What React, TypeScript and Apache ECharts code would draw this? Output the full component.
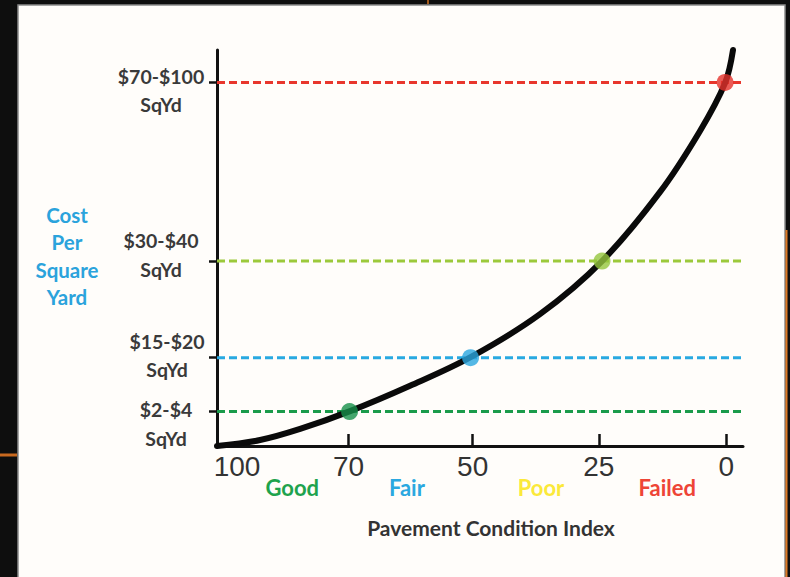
import React, { useEffect, useRef } from 'react';
import * as echarts from 'echarts';

// ---- data (abstract axis units: x = position along PCI scale, y = relative cost) ----
const pciTickPos = [0, 25, 48.6, 72.6, 96.8];
const pciTickLabels = ['100', '70', '50', '25', '0'];
const ratingPos = [14.3, 36.1, 61.6, 85.6];
const ratingNames = ['Good', 'Fair', 'Poor', 'Failed'];
const costLevels = [8.7, 22.3, 46.7, 91.8];
const costRanges = ['$2-$4', '$15-$20', '$30-$40', '$70-$100'];
const costUnit = 'SqYd';
const yTitleLines = ['Cost', 'Per', 'Square', 'Yard'];
const xTitle = 'Pavement Condition Index';
const curveX = [0, 8.2, 15.8, 25.3, 36.7, 48.3, 61.4, 73.2, 84.2, 91.8, 96.6, 98.1];
const curveY = [0, 1.5, 4.3, 8.8, 15.2, 22.5, 33.3, 46.7, 64.1, 79.5, 91.7, 100];
const pointX = [25.2, 48.2, 73.2, 96.6];

const levelColors = ['#1a9b4b', '#29a9e1', '#9cc93b', '#e8362c'];
const dotColors = ['#16904a', '#2aa6e0', '#95c63d', '#e5312b'];
const ratingColors = ['#1ea34d', '#2ba8e0', '#fbe93a', '#ee4436'];

const X_MIN = 0;
const X_MAX = 100;
const Y_MIN = 0;
const Y_MAX = 100;

// layout
const GRID = { left: 217, top: 50, width: 526, height: 396 };
const labelShiftDownPx = [12.5, -2, -6, 8]; // hand-placed label offsets in the original
const labelPadRight = [2, 0, 12, 12];

const BOLD = 'Lato, "Open Sans", sans-serif';
const NARROW = '"Liberation Sans Narrow", "Liberation Sans", Arial, sans-serif';

function yRich() {
  const base = { fontFamily: BOLD, fontWeight: 'bold', fontSize: 19.5, color: '#3a3a3a', lineHeight: 28.5 };
  const rich: Record<string, any> = {};
  labelPadRight.forEach((p, i) => {
    rich['a' + i] = { ...base, padding: [0, p, 0, 0] };
  });
  return rich;
}

function xRich() {
  const base = { fontFamily: NARROW, fontSize: 28, color: '#333333' };
  return {
    first: { ...base, padding: [0, 0, 0, 40] },
    n: { ...base },
  };
}

function ratingRich() {
  const rich: Record<string, any> = {};
  ratingColors.forEach((c, i) => {
    rich['r' + i] = { fontFamily: BOLD, fontWeight: 'bold', fontSize: 22, color: c };
  });
  return rich;
}

export default function App() {
  const ref = useRef<HTMLDivElement>(null);

  useEffect(() => {
    if (!ref.current) return;
    const chart = echarts.init(ref.current, undefined, { renderer: 'svg' });

    const idxOf = (arr: number[], v: number) => {
      let best = 0;
      arr.forEach((a, i) => {
        if (Math.abs(a - v) < Math.abs(arr[best] - v)) best = i;
      });
      return best;
    };

    const pxPerUnitY = GRID.height / (Y_MAX - Y_MIN);
    const costLabelAt = costLevels.map((v, i) => v - labelShiftDownPx[i] / pxPerUnitY);

    const dashed = costLevels.map((lvl, i) => ({
      type: 'line',
      data: [
        [X_MIN, lvl],
        [X_MAX, lvl],
      ],
      symbol: 'none',
      silent: true,
      z: 2,
      lineStyle: { color: levelColors[i], width: 3, type: [8, 4] },
    }));

    const option: any = {
      animation: false,
      backgroundColor: '#0e0e0e',
      graphic: [
        {
          type: 'rect',
          z: -100,
          silent: true,
          shape: { x: 18, y: 5, width: 767, height: 620 },
          style: { fill: '#fffdfa', stroke: '#8a8a8a', lineWidth: 1.5 },
        },
        {
          type: 'line',
          silent: true,
          shape: { x1: 428, y1: 0, x2: 428, y2: 4 },
          style: { stroke: '#d4721f', lineWidth: 1.5 },
        },
        {
          type: 'line',
          silent: true,
          shape: { x1: 0, y1: 455, x2: 17, y2: 455 },
          style: { stroke: '#c8691f', lineWidth: 3 },
        },
        {
          type: 'line',
          silent: true,
          shape: { x1: 786.5, y1: 230, x2: 786.5, y2: 577 },
          style: { stroke: '#e07a24', lineWidth: 2 },
        },
      ],
      grid: GRID,
      xAxis: [
        {
          type: 'value',
          position: 'bottom',
          min: X_MIN,
          max: X_MAX,
          axisLine: { show: true, lineStyle: { color: '#111', width: 3 } },
          axisTick: {
            show: true,
            inside: true,
            length: 12,
            customValues: pciTickPos,
            lineStyle: { color: '#111', width: 2.5 },
          },
          splitLine: { show: false },
          axisLabel: {
            customValues: pciTickPos,
            showMinLabel: true,
            showMaxLabel: true,
            margin: 6,
            formatter: (v: number) => {
              const i = idxOf(pciTickPos, v);
              return i === 0 ? `{first|${pciTickLabels[i]}}` : `{n|${pciTickLabels[i]}}`;
            },
            rich: xRich(),
          },
        },
        {
          type: 'value',
          position: 'bottom',
          min: X_MIN,
          max: X_MAX,
          axisLine: { show: false },
          axisTick: { show: false },
          splitLine: { show: false },
          axisLabel: {
            customValues: ratingPos,
            showMinLabel: true,
            showMaxLabel: true,
            margin: 30,
            formatter: (v: number) => {
              const i = idxOf(ratingPos, v);
              return `{r${i}|${ratingNames[i]}}`;
            },
            rich: ratingRich(),
          },
          name: xTitle,
          nameLocation: 'middle',
          nameGap: 71,
          nameTextStyle: {
            fontFamily: BOLD,
            fontWeight: 'bold',
            fontSize: 21,
            color: '#333333',
            padding: [0, 0, 0, 22],
          },
        },
      ],
      yAxis: {
        type: 'value',
        min: Y_MIN,
        max: Y_MAX,
        axisLine: { show: true, lineStyle: { color: '#111', width: 3 } },
        axisTick: {
          show: true,
          inside: false,
          length: 8,
          customValues: costLevels,
          lineStyle: { color: '#111', width: 2.5 },
        },
        splitLine: { show: false },
        axisLabel: {
          customValues: costLabelAt,
          showMinLabel: true,
          showMaxLabel: true,
          hideOverlap: false,
          margin: 50,
          align: 'center',
          verticalAlign: 'middle',
          formatter: (v: number) => {
            const i = idxOf(costLabelAt, v);
            return `{a${i}|${costRanges[i]}}\n{a${i}|${costUnit}}`;
          },
          rich: yRich(),
        },
        name: yTitleLines.map((s) => `{c|${s}}`).join('\n'),
        nameLocation: 'middle',
        nameRotate: 0,
        nameGap: 150,
        nameTextStyle: {
          align: 'center',
          verticalAlign: 'middle',
          rich: {
            c: {
              fontFamily: BOLD,
              fontWeight: 'bold',
              fontSize: 20.5,
              lineHeight: 27.5,
              color: '#2ba3dc',
              padding: [16, 0, 0, 0],
            },
          },
        },
      },
      series: [
        ...dashed,
        {
          type: 'line',
          data: curveX.map((x, i) => [x, curveY[i]]),
          smooth: 0.35,
          symbol: 'none',
          clip: false,
          silent: true,
          z: 3,
          lineStyle: { color: '#0a0a0a', width: 6, cap: 'round' },
        },
        {
          type: 'scatter',
          data: pointX.map((x, i) => ({
            value: [x, costLevels[i]],
            itemStyle: { color: dotColors[i] },
          })),
          symbol: 'circle',
          symbolSize: 17,
          silent: true,
          z: 4,
        },
      ],
    };

    chart.setOption(option);
    return () => chart.dispose();
  }, []);

  return (
    <div
      ref={ref}
      style={{ position: 'absolute', left: 0, top: 0, width: 790, height: 577 }}
    />
  );
}
